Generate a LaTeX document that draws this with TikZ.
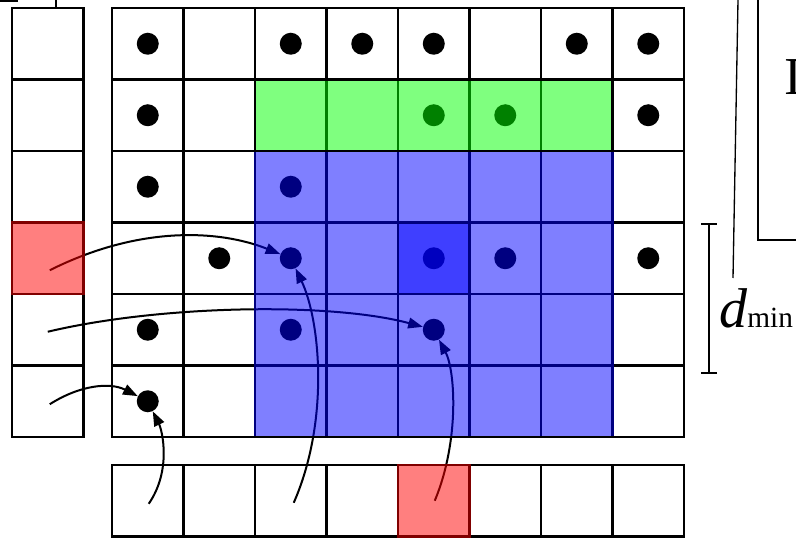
\documentclass[tikz,border=0pt]{standalone}
\usepackage{fontspec}
\setmainfont{Liberation Serif}
\usetikzlibrary{arrows.meta, positioning, calc}

\tikzset{
  cell/.style={draw=black, line width=2pt, minimum size=53.625pt, inner sep=0pt, outer sep=0pt},
  blob/.style={circle, fill=black, minimum size=16.5pt, inner sep=0pt},
  link/.style={line width=1.5pt, -{Triangle[length=11pt,width=8pt]}},
  guide/.style={line width=1pt},
}

\begin{document}
\begin{tikzpicture}[x=0.75pt, y=-0.75pt]
\clip (0,0) rectangle (796,538);

% left column, grid and bottom row
\foreach \row in {0,...,5}
  \node[cell] (l-\row) at (47.75, 43.75+71.5*\row) {};
\foreach \row in {0,...,5}
  \foreach \col in {0,...,7}
    \node[cell] (g-\row-\col) at (147.75+71.5*\col, 43.75+71.5*\row) {};
\foreach \col in {0,...,7}
  \node[cell] (b-\col) at (147.75+71.5*\col, 500.75) {};

% occupied cells
\foreach \row/\col in {0/0,0/2,0/3,0/4,0/6,0/7,1/0,1/4,1/5,1/7,2/0,2/2,3/1,3/2,3/4,3/5,3/7,4/0,4/2,4/4,5/0}
  \node[blob] (d-\row-\col) at (g-\row-\col) {};

% lookups
\coordinate (s-3) at ($(l-3)+(2,12)$);
\coordinate (s-4) at ($(l-4)+(0,2)$);
\coordinate (s-5) at ($(l-5)+(2,3)$);
\coordinate (t-0) at ($(b-0)+(1,3)$);
\coordinate (t-2) at ($(b-2)+(3,2)$);
\coordinate (t-4) at ($(b-4)+(1,0)$);
\draw[link] (s-3) .. controls (140,225) and (220,230) .. (d-3-2);
\draw[link] (s-4) .. controls (160,305) and (330,302) .. (d-4-4);
\draw[link] (s-5) .. controls (80,385) and (110,382) .. (d-5-0);
\draw[link] (t-0) .. controls (172,470) and (162,430) .. (d-5-0);
\draw[link] (t-2) .. controls (330,420) and (320,320) .. (d-3-2);
\draw[link] (t-4) .. controls (460,440) and (455,370) .. (d-4-4);

% tinted regions
\fill[red, opacity=.5] ($(l-3.north west)+(-1.4,-1.4)$) rectangle ($(l-3.south east)+(1.4,1.4)$);
\fill[red, opacity=.5] ($(b-4.north west)+(-1.4,-1.4)$) rectangle ($(b-4.south east)+(1.4,1.4)$);
\fill[green, opacity=.5] ($(g-1-2.north west)+(1.4,1.4)$) rectangle ($(g-1-6.south east)+(-1.4,-1.4)$);
\fill[blue, opacity=.5] ($(g-2-2.north west)+(-1.4,1.4)$) rectangle ($(g-5-6.south east)+(1.4,-1.4)$);
\fill[blue, opacity=.5] ($(g-3-4.north west)+(1.4,1.4)$) rectangle ($(g-3-4.south east)+(-1.4,-1.4)$);

% distance mark
\coordinate (dtop) at (709,223);
\coordinate (dbot) at (709,374);
\draw[line width=1.5pt, {Bar[width=12pt]}-{Bar[width=12pt]}] (dtop) -- (dbot);
\node[anchor=base west, inner sep=0pt] (dmin) at (719,328)
  {\fontsize{42}{42}\selectfont\textit{d}\fontsize{22}{22}\selectfont min};

% cut-off parts at the edges
\draw[guide] (0,1) -- (18,1);
\draw[line width=1.5pt] (56,0) -- (56,8);
\draw[guide] (738,0) -- (733,278);
\draw[guide] (758,-5) |- (810,240);
\node[anchor=base west, inner sep=0pt] (ititle) at (784,95) {\fontsize{40}{40}\selectfont I};
\end{tikzpicture}
\end{document}
